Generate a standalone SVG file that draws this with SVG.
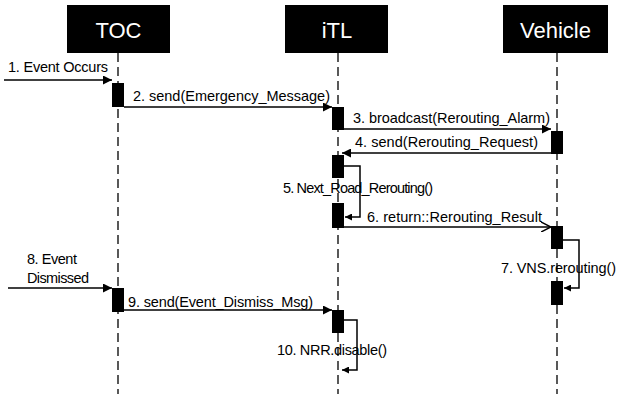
<svg xmlns="http://www.w3.org/2000/svg" width="617" height="394" viewBox="0 0 617 394">
<style>
.head{fill:#000}
.ht{font-family:"Liberation Sans",Arial,sans-serif;font-size:22px;fill:#fff;text-anchor:middle}
.life{stroke:#000;stroke-width:1.3;stroke-dasharray:9,5;fill:none}
.act{fill:#000}
.msg{stroke:#000;stroke-width:1.5;fill:none}
.lbl{font-family:"Liberation Sans",Arial,sans-serif;font-size:14.5px;fill:#000}
</style>
<defs>
<marker id="fa" viewBox="0 0 10 10" refX="10" refY="5" markerWidth="9" markerHeight="9" markerUnits="userSpaceOnUse" orient="auto">
<path d="M0,0 L10,5 L0,10 z" fill="#000"/>
</marker>
<marker id="sa" viewBox="0 0 10 10" refX="10" refY="5" markerWidth="7" markerHeight="7" markerUnits="userSpaceOnUse" orient="auto">
<path d="M0,0 L10,5 L0,10 z" fill="#000"/>
</marker>
<marker id="oa" viewBox="0 0 10 10" refX="10" refY="5" markerWidth="10" markerHeight="10" markerUnits="userSpaceOnUse" orient="auto">
<path d="M0,0 L10,5 L0,10" fill="none" stroke="#000" stroke-width="1.5"/>
</marker>
</defs>
<rect width="617" height="394" fill="#fff"/>
<g id="TOC">
<rect class="head" x="67" y="5" width="103" height="48"/>
<text class="ht" x="118.5" y="38">TOC</text>
<line class="life" x1="118" y1="53" x2="118" y2="394"/>
</g>
<g id="iTL">
<rect class="head" x="285" y="5" width="103" height="48"/>
<text class="ht" x="337" y="38">iTL</text>
<line class="life" x1="338" y1="53" x2="338" y2="394"/>
</g>
<g id="Vehicle">
<rect class="head" x="503" y="5" width="105" height="48"/>
<text class="ht" x="555.5" y="38">Vehicle</text>
<line class="life" x1="557" y1="53" x2="557" y2="394"/>
</g>
<g id="activations">
<rect class="act" x="112" y="83" width="12" height="24"/>
<rect class="act" x="332" y="107" width="12" height="23"/>
<rect class="act" x="551" y="131" width="12" height="23"/>
<rect class="act" x="332" y="155" width="12" height="23"/>
<rect class="act" x="332" y="203" width="12" height="25"/>
<rect class="act" x="551" y="226" width="12" height="23"/>
<rect class="act" x="551" y="281" width="12" height="24"/>
<rect class="act" x="112" y="288" width="12" height="24"/>
<rect class="act" x="332" y="310" width="12" height="23"/>
</g>
<g id="connectors">
<line class="msg" x1="4" y1="80" x2="112" y2="80" marker-end="url(#fa)"/>
<line class="msg" x1="124" y1="107" x2="332" y2="107" marker-end="url(#fa)"/>
<line class="msg" x1="344" y1="129" x2="551" y2="129" marker-end="url(#fa)"/>
<line class="msg" x1="551" y1="153" x2="342" y2="153" marker-end="url(#fa)"/>
<polyline class="msg" points="344,166 360,166 360,217 345,217" marker-end="url(#sa)"/>
<line class="msg" x1="344" y1="227" x2="551" y2="227" marker-end="url(#oa)"/>
<polyline class="msg" points="563,240 579,240 579,288 564,288" marker-end="url(#sa)"/>
<line class="msg" x1="8" y1="288" x2="112" y2="288" marker-end="url(#fa)"/>
<line class="msg" x1="124" y1="310" x2="332" y2="310" marker-end="url(#fa)"/>
<polyline class="msg" points="344,320 357,320 357,370 342,370" marker-end="url(#sa)"/>
</g>
<g id="labels">
<text class="lbl" x="8" y="72" textLength="100">1. Event Occurs</text>
<text class="lbl" x="133" y="101" textLength="197">2. send(Emergency_Message)</text>
<text class="lbl" x="353" y="123" textLength="197">3. broadcast(Rerouting_Alarm)</text>
<text class="lbl" x="355" y="147" textLength="183">4. send(Rerouting_Request)</text>
<text class="lbl" x="283" y="193" textLength="150">5. Next_Road_Rerouting()</text>
<text class="lbl" x="367" y="222" textLength="175">6. return::Rerouting_Result</text>
<text class="lbl" x="501" y="273" textLength="115">7. VNS.rerouting()</text>
<text class="lbl" x="27" y="264" textLength="50">8. Event</text>
<text class="lbl" x="27" y="283" textLength="62">Dismissed</text>
<text class="lbl" x="128" y="307" textLength="185">9. send(Event_Dismiss_Msg)</text>
<text class="lbl" x="277" y="355" textLength="110">10. NRR.disable()</text>
</g>
</svg>
